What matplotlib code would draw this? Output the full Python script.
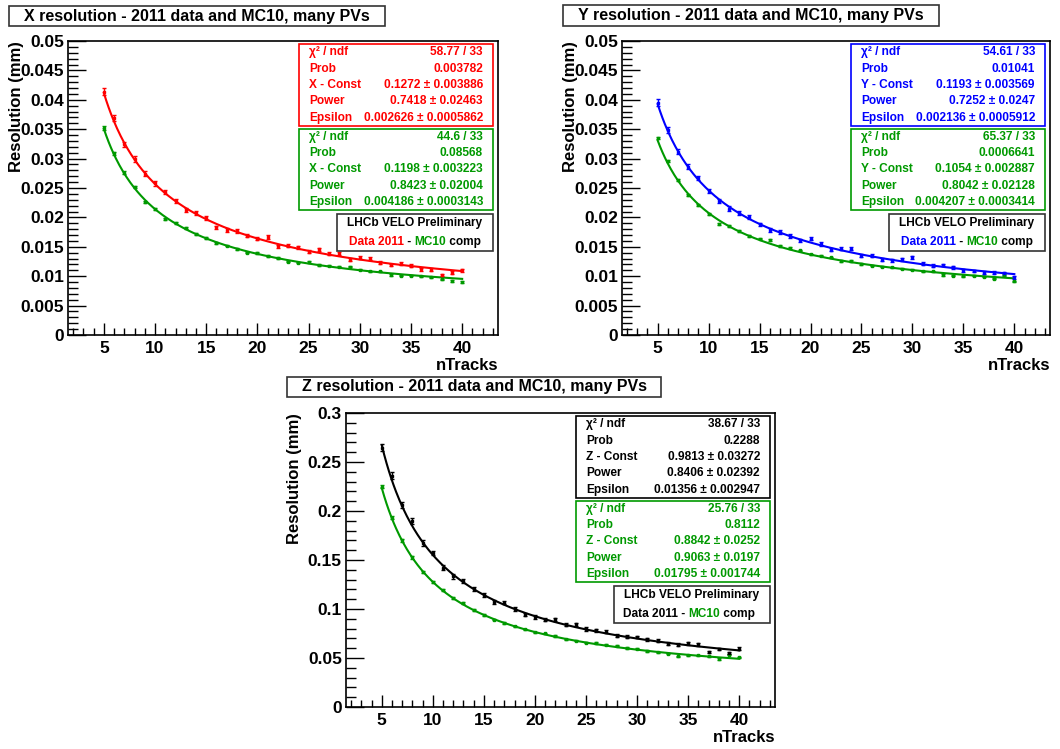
import numpy as np
import matplotlib
matplotlib.use("Agg")
import matplotlib.pyplot as plt
from matplotlib.patches import Rectangle
from matplotlib.ticker import MultipleLocator

plt.rcParams["font.family"] = ["Liberation Sans", "DejaVu Sans"]
plt.rcParams["font.weight"] = "bold"

W, H = 1060, 749
GREEN = "#009900"

n_tracks = np.arange(5, 41)

# X resolution (mm)
x_data = [0.0414, 0.0369, 0.0324, 0.0299, 0.0274, 0.0258, 0.0243, 0.0228, 0.0213, 0.0207,
          0.0199, 0.0183, 0.0179, 0.0177, 0.0169, 0.0164, 0.0167, 0.0151, 0.0152, 0.0149,
          0.0142, 0.0146, 0.0138, 0.0138, 0.0128, 0.0131, 0.0130, 0.0123, 0.0119, 0.0121,
          0.0118, 0.0112, 0.0111, 0.0102, 0.0106, 0.0110]
x_mc = [0.0352, 0.0309, 0.0276, 0.0252, 0.0226, 0.0214, 0.0198, 0.0190, 0.0182, 0.0172,
        0.0165, 0.0157, 0.0152, 0.0146, 0.0140, 0.0139, 0.0134, 0.0131, 0.0125, 0.0123,
        0.0124, 0.0119, 0.0118, 0.0116, 0.0116, 0.0111, 0.0108, 0.0108, 0.0102, 0.0101,
        0.0101, 0.0100, 0.0098, 0.0095, 0.0092, 0.0090]

# Y resolution (mm)
y_data = [0.0395, 0.0349, 0.0312, 0.0286, 0.0267, 0.0245, 0.0228, 0.0215, 0.0207, 0.0201,
          0.0188, 0.0179, 0.0175, 0.0168, 0.0161, 0.0164, 0.0155, 0.0145, 0.0147, 0.0147,
          0.0135, 0.0135, 0.0128, 0.0127, 0.0129, 0.0132, 0.0121, 0.0118, 0.0119, 0.0115,
          0.0110, 0.0109, 0.0106, 0.0106, 0.0105, 0.0098]
y_mc = [0.0335, 0.0296, 0.0264, 0.0238, 0.0221, 0.0206, 0.0189, 0.0186, 0.0177, 0.0169,
        0.0164, 0.0162, 0.0151, 0.0148, 0.0144, 0.0137, 0.0135, 0.0132, 0.0126, 0.0126,
        0.0121, 0.0118, 0.0116, 0.0115, 0.0113, 0.0111, 0.0108, 0.0108, 0.0102, 0.0101,
        0.0100, 0.0101, 0.0099, 0.0096, 0.0102, 0.0091]

# Z resolution (mm)
z_data = [0.2646, 0.2361, 0.2058, 0.1898, 0.1673, 0.1571, 0.1422, 0.1333, 0.1286, 0.1201,
          0.1146, 0.1071, 0.1065, 0.1000, 0.0942, 0.0918, 0.0891, 0.0895, 0.0840, 0.0844,
          0.0796, 0.0782, 0.0769, 0.0728, 0.0718, 0.0714, 0.0690, 0.0677, 0.0646, 0.0636,
          0.0650, 0.0639, 0.0561, 0.0592, 0.0551, 0.0595]
z_mc = [0.2248, 0.1932, 0.1701, 0.1527, 0.1374, 0.1279, 0.1190, 0.1112, 0.1058, 0.0990,
        0.0942, 0.0891, 0.0857, 0.0823, 0.0793, 0.0762, 0.0752, 0.0724, 0.0690, 0.0677,
        0.0656, 0.0653, 0.0636, 0.0626, 0.0602, 0.0595, 0.0571, 0.0558, 0.0544, 0.0517,
        0.0527, 0.0527, 0.0517, 0.0490, 0.0534, 0.0507]

# fit results: (chi2/ndf, prob, const, const err, power, power err, eps, eps err)
x_fit_data = ("58.77 / 33", "0.003782", 0.1272, "0.003886", 0.7418, "0.02463", 0.002626, "0.0005862")
x_fit_mc = ("44.6 / 33", "0.08568", 0.1198, "0.003223", 0.8423, "0.02004", 0.004186, "0.0003143")
y_fit_data = ("54.61 / 33", "0.01041", 0.1193, "0.003569", 0.7252, "0.0247", 0.002136, "0.0005912")
y_fit_mc = ("65.37 / 33", "0.0006641", 0.1054, "0.002887", 0.8042, "0.02128", 0.004207, "0.0003414")
z_fit_data = ("38.67 / 33", "0.2288", 0.9813, "0.03272", 0.8406, "0.02392", 0.01356, "0.002947")
z_fit_mc = ("25.76 / 33", "0.8112", 0.8842, "0.0252", 0.9063, "0.0197", 0.01795, "0.001744")


def fx(x):
    return x / W


def fy(y):
    return 1 - y / H


def fit_curve(n, fit):
    return fit[2] / n ** fit[4] + fit[6]


def box(fig, x0, y0, x1, y1, color, lw=1.2):
    fig.add_artist(Rectangle((fx(x0), fy(y1)), fx(x1) - fx(x0), fy(y0) - fy(y1),
                             transform=fig.transFigure, fill=True, facecolor="white",
                             edgecolor=color, lw=lw, zorder=5))


def stats_box(fig, x0, y0, x1, y1, fit, color, axis):
    box(fig, x0, y0, x1, y1, color)
    names = ["χ² / ndf", "Prob", f"{axis} - Const", "Power", "Epsilon"]
    vals = [fit[0], fit[1], f"{fit[2]:g} ± {fit[3]}", f"{fit[4]:g} ± {fit[5]}", f"{fit[6]:g} ± {fit[7]}"]
    step = (y1 - y0) / 5
    for i, (nm, v) in enumerate(zip(names, vals)):
        yy = y0 + step * (i + 0.5)
        fig.text(fx(x0 + 10), fy(yy), nm, color=color, fontsize=8.6, fontweight="bold",
                 ha="left", va="center", zorder=6)
        fig.text(fx(x1 - 10), fy(yy), v, color=color, fontsize=8.6, fontweight="bold",
                 ha="right", va="center", zorder=6)


def panel(fig, rect, title_rect, ymax, ymajor, yminor, data, mc, fit_d, fit_m, color, axis, yfmt):
    l, t, r, b = rect
    ax = fig.add_axes([fx(l), fy(b), fx(r) - fx(l), fy(t) - fy(b)])
    nn = np.linspace(n_tracks[0], n_tracks[-1], 300)
    ax.plot(nn, fit_curve(nn, fit_m), color=GREEN, lw=1.5)
    ax.plot(nn, fit_curve(nn, fit_d), color=color, lw=1.5)
    err_d = np.array(data) * 0.012 + ymax * 0.002
    err_m = np.array(mc) * 0.006 + ymax * 0.001
    ax.errorbar(n_tracks, mc, yerr=err_m, fmt="s", color=GREEN, ms=1.6, elinewidth=1,
                capsize=1.5, capthick=1)
    ax.errorbar(n_tracks, data, yerr=err_d, fmt="s", color=color, ms=1.6, elinewidth=1,
                capsize=1.5, capthick=1)
    ax.set_xlim(1.5, 43.5)
    ax.set_ylim(0, ymax)
    ax.xaxis.set_major_locator(MultipleLocator(5))
    ax.xaxis.set_minor_locator(MultipleLocator(1))
    ax.yaxis.set_major_locator(MultipleLocator(ymajor))
    ax.yaxis.set_minor_locator(MultipleLocator(yminor))
    ax.set_xticks(np.arange(5, 45, 5))
    ax.set_xticklabels([str(v) for v in range(5, 45, 5)])
    ax.set_yticklabels([yfmt(v) for v in ax.get_yticks()])
    ax.tick_params(axis="both", which="both", direction="in", labelsize=12.5, width=1)
    ax.tick_params(axis="y", which="major", length=13, pad=3)
    ax.tick_params(axis="y", which="minor", length=7)
    ax.tick_params(axis="x", which="major", length=9, pad=4)
    ax.tick_params(axis="x", which="minor", length=5)
    for lab in ax.get_xticklabels() + ax.get_yticklabels():
        lab.set_fontweight("bold")
    for s in ax.spines.values():
        s.set_linewidth(1.2)
    fig.text(fx(r), fy(b + 23), "nTracks", fontsize=12, fontweight="bold", ha="right", va="top")
    fig.text(fx(l - 51), fy(t), "Resolution (mm)", fontsize=12, fontweight="bold",
             rotation=90, ha="center", va="top")
    # title box
    tl, tt, tr, tb = title_rect
    box(fig, tl, tt, tr, tb, "#333333", lw=1.2)
    fig.text(fx((tl + tr) / 2), fy((tt + tb) / 2), f"{axis} resolution - 2011 data and MC10, many PVs",
             fontsize=11.5, fontweight="bold", ha="center", va="center", zorder=6)
    # stats boxes
    sx1 = r - 5
    sx0 = sx1 - 194
    stats_box(fig, sx0, t + 3, sx1, t + 85, fit_d, color, axis)
    stats_box(fig, sx0, t + 88, sx1, t + 169, fit_m, GREEN, axis)
    lx0 = sx1 - 156
    box(fig, lx0, t + 173, sx1, t + 210, "#333333")
    cx = (lx0 + sx1) / 2
    fig.text(fx(cx), fy(t + 182), "LHCb VELO Preliminary", fontsize=8.6, fontweight="bold",
             ha="center", va="center", zorder=6)
    parts = [("Data 2011", color), (" - ", "black"), ("MC10", GREEN), (" comp", "black")]
    x_cur = fx(lx0 + 12 if axis != "Z" else lx0 + 9)
    renderer = fig.canvas.get_renderer()
    for s, c in parts:
        tt_ = fig.text(x_cur, fy(t + 201), s, fontsize=8.6, fontweight="bold", color=c,
                       ha="left", va="center", zorder=6)
        bb = tt_.get_window_extent(renderer=renderer)
        x_cur += bb.width / fig.bbox.width
    return ax


fig = plt.figure(figsize=(W / 100, H / 100), dpi=100)
fig.patch.set_facecolor("white")


def fmt_xy(v):
    return "0" if abs(v) < 1e-12 else f"{v:.3f}".rstrip("0")


def fmt_z(v):
    return "0" if abs(v) < 1e-12 else f"{v:.2f}".rstrip("0")


panel(fig, (68, 41, 498, 335), (9, 6, 385, 26), 0.05, 0.005, 0.001,
      x_data, x_mc, x_fit_data, x_fit_mc, "red", "X", fmt_xy)
panel(fig, (622, 41, 1050, 335), (563, 5, 939, 26), 0.05, 0.005, 0.001,
      y_data, y_mc, y_fit_data, y_fit_mc, "blue", "Y", fmt_xy)
panel(fig, (346, 413, 775, 707), (287, 377, 661, 397), 0.3, 0.05, 0.01,
      z_data, z_mc, z_fit_data, z_fit_mc, "black", "Z", fmt_z)

fig.savefig("out.png", dpi=100, facecolor="white")
